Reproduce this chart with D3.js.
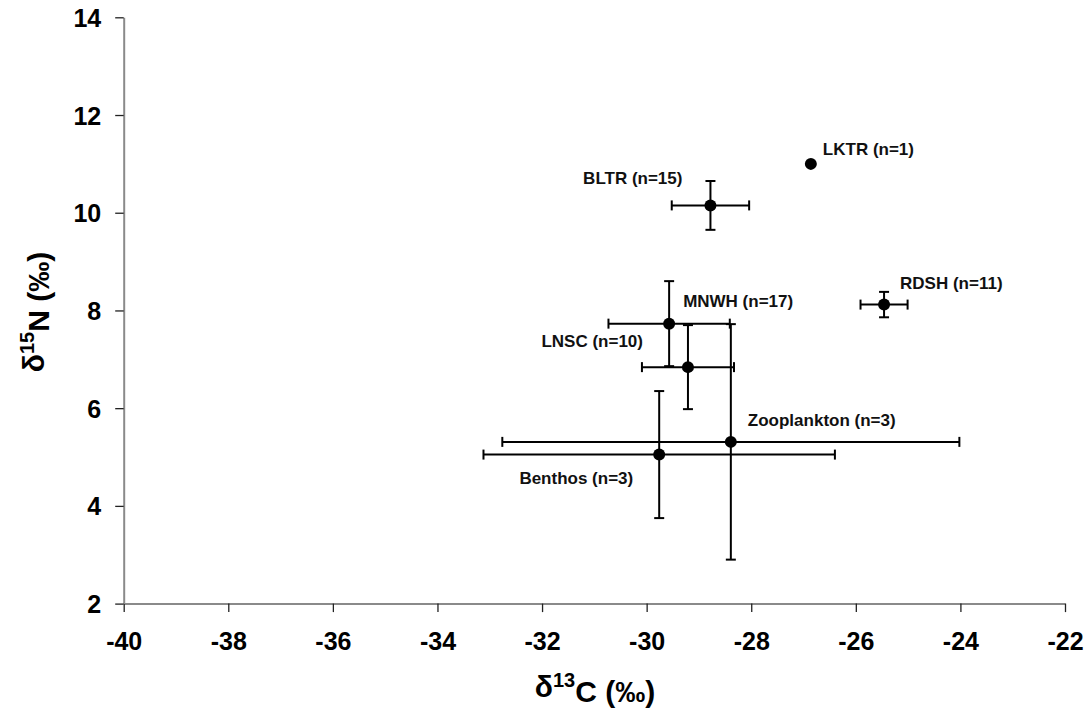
<!DOCTYPE html>
<html>
<head>
<meta charset="utf-8">
<script src="https://cdn.jsdelivr.net/npm/d3@7"></script>
<style>
  html, body { margin: 0; padding: 0; background: #fff; }
  svg { display: block; font-family: Arial, "Liberation Sans", sans-serif; }
</style>
</head>
<body>
<svg id="chart" width="1088" height="713"></svg>
<script>
// Stable isotope means (± SD) for each group
const groups   = ["LKTR", "BLTR", "RDSH", "MNWH", "LNSC", "Zooplankton", "Benthos"];
const sampleN  = [1, 15, 11, 17, 10, 3, 3];
const d13C     = [-26.86, -28.78, -25.46, -29.57, -29.21, -28.39, -29.76];
const d13C_sd  = [0, 0.74, 0.45, 1.16, 0.88, 4.37, 3.36];
const d15N     = [11.0, 10.15, 8.12, 7.73, 6.84, 5.31, 5.05];
const d15N_sd  = [0, 0.50, 0.26, 0.87, 0.86, 2.41, 1.30];

const xTicks = [-40, -38, -36, -34, -32, -30, -28, -26, -24, -22];
const yTicks = [2, 4, 6, 8, 10, 12, 14];

const svg = d3.select("#chart");
const plotL = 123.7, plotR = 1065, plotT = 17.3, plotB = 603.6;

const x = d3.scaleLinear().domain([-40, -22]).range([plotL, plotR]);
const y = d3.scaleLinear().domain([2, 14]).range([plotB, plotT]);

// Axes (plain hyphen for negative tick values)
const fmt = d => String(d);
const xAxis = svg.append("g").attr("transform", `translate(0,${plotB})`)
  .call(d3.axisBottom(x).tickValues(xTicks).tickFormat(fmt).tickSize(8.5).tickSizeOuter(0).tickPadding(20));
const yAxis = svg.append("g").attr("transform", `translate(${plotL},0)`)
  .call(d3.axisLeft(y).tickValues(yTicks).tickFormat(fmt).tickSize(8.5).tickSizeOuter(0).tickPadding(14));

[xAxis, yAxis].forEach(a => {
  a.select(".domain").attr("stroke", "#8a8a8a").attr("stroke-width", 2);
  a.selectAll(".tick line").attr("stroke", "#222").attr("stroke-width", 1.3);
  a.selectAll(".tick text")
    .attr("fill", "#000")
    .style("font-size", "25px")
    .style("font-weight", "bold");
});
xAxis.selectAll(".tick text").attr("dy", "0.71em");
yAxis.selectAll(".tick text").attr("dy", "0.36em");

// Axis titles
const xTitle = svg.append("text")
  .attr("x", 595).attr("y", 697)
  .attr("text-anchor", "middle")
  .style("font-size", "30px").style("font-weight", "bold");
xTitle.append("tspan").text("δ");
xTitle.append("tspan").attr("dy", "-0.5em").style("font-size", "20px").text("13");
xTitle.append("tspan").attr("dy", "0.5em").text("C (‰)");

const yTitle = svg.append("text")
  .attr("transform", "translate(44,312) rotate(-90)")
  .attr("text-anchor", "middle")
  .style("font-size", "30px").style("font-weight", "bold");
yTitle.append("tspan").text("δ");
yTitle.append("tspan").attr("dy", "-0.5em").style("font-size", "20px").text("15");
yTitle.append("tspan").attr("dy", "0.5em").text("N (‰)");

// Records combining the arrays
const pts = groups.map((g, i) => ({
  g, n: sampleN[i], cx: d13C[i], csd: d13C_sd[i], ny: d15N[i], nsd: d15N_sd[i]
}));

const cap = 5;
const bars = svg.append("g").attr("stroke", "#000").attr("stroke-width", 2).attr("fill", "none");
pts.filter(p => p.csd > 0 || p.nsd > 0).forEach(p => {
  const px = x(p.cx), py = y(p.ny);
  const x0 = x(p.cx - p.csd), x1 = x(p.cx + p.csd);
  const y0 = y(p.ny - p.nsd), y1 = y(p.ny + p.nsd);
  bars.append("line").attr("x1", x0).attr("x2", x1).attr("y1", py).attr("y2", py);
  bars.append("line").attr("x1", x0).attr("x2", x0).attr("y1", py - cap).attr("y2", py + cap);
  bars.append("line").attr("x1", x1).attr("x2", x1).attr("y1", py - cap).attr("y2", py + cap);
  bars.append("line").attr("x1", px).attr("x2", px).attr("y1", y0).attr("y2", y1);
  bars.append("line").attr("x1", px - cap).attr("x2", px + cap).attr("y1", y0).attr("y2", y0);
  bars.append("line").attr("x1", px - cap).attr("x2", px + cap).attr("y1", y1).attr("y2", y1);
});

svg.append("g").selectAll("circle").data(pts).join("circle")
  .attr("cx", d => x(d.cx)).attr("cy", d => y(d.ny))
  .attr("r", 6).attr("fill", "#000");

// Label placement relative to each point (pixels)
const labelPlace = {
  "LKTR":        { dx: 12,  dy: -9,  anchor: "start" },
  "BLTR":        { dx: -28, dy: -21, anchor: "end" },
  "RDSH":        { dx: 16,  dy: -16, anchor: "start" },
  "MNWH":        { dx: 14,  dy: -17, anchor: "start" },
  "LNSC":        { dx: -45, dy: -20, anchor: "end" },
  "Zooplankton": { dx: 17,  dy: -16, anchor: "start" },
  "Benthos":     { dx: -26, dy: 29,  anchor: "end" }
};

svg.append("g").selectAll("text").data(pts).join("text")
  .attr("x", d => x(d.cx) + labelPlace[d.g].dx)
  .attr("y", d => y(d.ny) + labelPlace[d.g].dy)
  .attr("text-anchor", d => labelPlace[d.g].anchor)
  .style("font-size", "17px").style("font-weight", "bold")
  .attr("fill", "#111")
  .text(d => `${d.g} (n=${d.n})`);
</script>
</body>
</html>
